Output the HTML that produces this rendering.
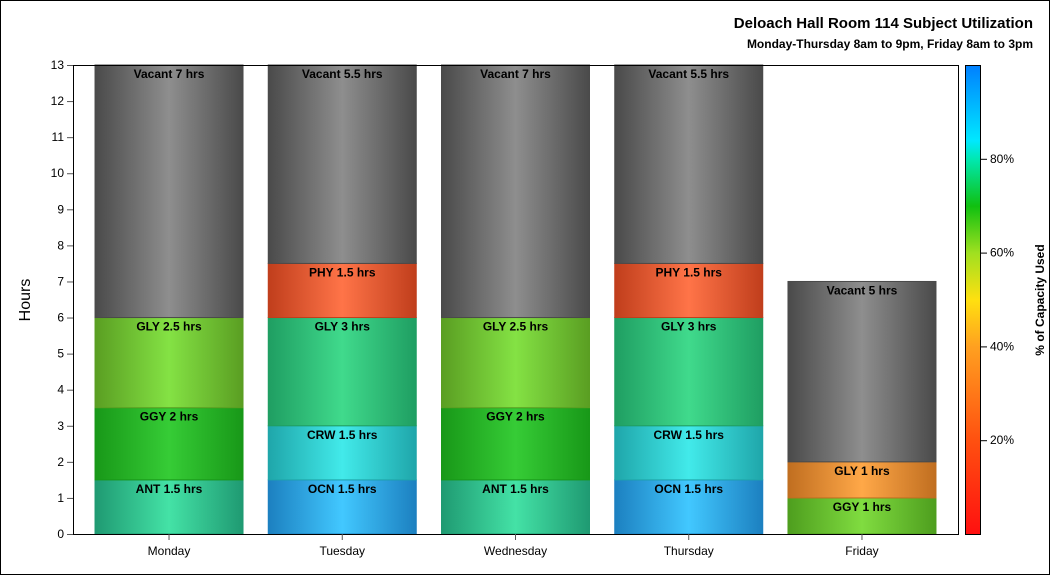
<!DOCTYPE html>
<html><head><meta charset="utf-8"><style>
html,body{margin:0;padding:0;background:#fff}
svg{display:block;font-family:"Liberation Sans",sans-serif}
</style></head><body>
<svg id="chart" width="1050" height="575">
<defs id="defs">
<linearGradient id="cbar" x1="0" y1="1" x2="0" y2="0">
<stop offset="0" stop-color="#ff1010"/><stop offset="0.2" stop-color="#ff5010"/><stop offset="0.4" stop-color="#ffa020"/><stop offset="0.5" stop-color="#ffe010"/><stop offset="0.6" stop-color="#a0e020"/><stop offset="0.7" stop-color="#10c010"/><stop offset="0.8" stop-color="#00e8b0"/><stop offset="0.84" stop-color="#00e8ff"/><stop offset="1" stop-color="#0080ff"/>
</linearGradient>
</defs>
<rect x="0.5" y="0.5" width="1049" height="574" fill="#fff" stroke="#000"/>
<text x="1033" y="28" text-anchor="end" font-size="15" font-weight="bold">Deloach Hall Room 114 Subject Utilization</text>
<text x="1033" y="48" text-anchor="end" font-size="12" font-weight="bold">Monday-Thursday 8am to 9pm, Friday 8am to 3pm</text>
<text x="30" y="300" text-anchor="middle" font-size="16" transform="rotate(-90 30 300)">Hours</text>
<g id="yaxis"></g>
<g id="bars"></g>
<rect x="73.5" y="65.5" width="885" height="469" fill="none" stroke="#000"/>
<g id="xaxis"></g>
<rect x="965.5" y="65.5" width="15" height="469" fill="url(#cbar)" stroke="#000"/>
<g id="cticks"></g>
<text x="1044" y="300" text-anchor="middle" font-size="12" font-weight="bold" transform="rotate(-90 1044 300)">% of Capacity Used</text>
</svg>
<script>
const days = ["Monday","Tuesday","Wednesday","Thursday","Friday"];
const segLabels = [
 ["ANT","GGY","GLY","Vacant"],
 ["OCN","CRW","GLY","PHY","Vacant"],
 ["ANT","GGY","GLY","Vacant"],
 ["OCN","CRW","GLY","PHY","Vacant"],
 ["GGY","GLY","Vacant"]
];
const segHours = [
 [1.5,2,2.5,7],
 [1.5,1.5,3,1.5,5.5],
 [1.5,2,2.5,7],
 [1.5,1.5,3,1.5,5.5],
 [1,1,5]
];
const segColors = [
 ["teal","green","lime","gray"],
 ["blue","cyan","mint","red","gray"],
 ["teal","green","lime","gray"],
 ["blue","cyan","mint","red","gray"],
 ["lgreen","orange","gray"]
];
const yTicks = [0,1,2,3,4,5,6,7,8,9,10,11,12,13];
const cTicks = [20,40,60,80];
const palette = {
 gray:["#4a4a4a","#8e8e8e"], teal:["#1f9a72","#44e2a6"], green:["#189818","#36cc36"],
 lime:["#5a9e22","#84e244"], mint:["#1f9e62","#40da8c"], red:["#c03e1c","#ff7448"],
 cyan:["#1fa6aa","#42eaea"], blue:["#1c80c0","#42c8ff"], lgreen:["#4e9e1e","#80dc40"],
 orange:["#c06e20","#ffa848"]
};
const NS="http://www.w3.org/2000/svg";
const X0=73,Y0=534,Y1=65,YMAX=13;
const IN0=82.4,IN1=948.6;
const y=v=>Y0-(v/YMAX)*(Y0-Y1);
const band=(IN1-IN0)/days.length, bw=148;
const xc=i=>IN0+band*(i+0.5);
const cy=p=>Y0-(p/100)*(Y0-Y1);
function mk(t,a,p){const e=document.createElementNS(NS,t);for(const k in a)e.setAttribute(k,a[k]);p.appendChild(e);return e;}
const defs=document.getElementById('defs');
for(const k in palette){
 const g=mk('linearGradient',{id:'g-'+k,x1:0,x2:1,y1:0,y2:0},defs);
 mk('stop',{offset:0,'stop-color':palette[k][0]},g);
 mk('stop',{offset:0.5,'stop-color':palette[k][1]},g);
 mk('stop',{offset:1,'stop-color':palette[k][0]},g);
}
const ya=document.getElementById('yaxis');
yTicks.forEach(t=>{
 const l=mk('line',{x1:X0-6,x2:X0,y1:y(t)+0.5,y2:y(t)+0.5,stroke:'#555'},ya);
 
 
 const tx=mk('text',{x:X0-9,y:y(t)+4,'text-anchor':'end','font-size':12},ya);
 tx.textContent=t;
 
 
});
const bars=document.getElementById('bars');
days.forEach((d,i)=>{
 let cum=0;
 const x=xc(i)-bw/2;
 segHours[i].forEach((h,j)=>{
  const top=y(cum+h), bot=y(cum);
  const r=mk('rect',{x:x,y:top,width:bw,height:bot-top,fill:'url(#g-'+segColors[i][j]+')',stroke:palette[segColors[i][j]][0],'stroke-width':1},bars);
  
  
  const t=mk('text',{x:xc(i),y:top+13,'text-anchor':'middle','font-size':12,'font-weight':'bold'},bars);
  t.textContent=segLabels[i][j]+' '+h+' hrs';
  
  
  cum+=h;
 });
});
const xa=document.getElementById('xaxis');
days.forEach((d,i)=>{
 const l=mk('line',{x1:xc(i),x2:xc(i),y1:Y0,y2:Y0+6,stroke:'#555'},xa);
 
 
 const t=mk('text',{x:xc(i),y:Y0+21,'text-anchor':'middle','font-size':12},xa);
 t.textContent=d;
 
 
});
const ct=document.getElementById('cticks');
cTicks.forEach(p=>{
 const l=mk('line',{x1:981,x2:987,y1:cy(p)+0.5,y2:cy(p)+0.5,stroke:'#000'},ct);
 
 
 const t=mk('text',{x:990,y:cy(p)+4,'font-size':12},ct);
 t.textContent=p+'%';
 
 
});
</script>
</body></html>
